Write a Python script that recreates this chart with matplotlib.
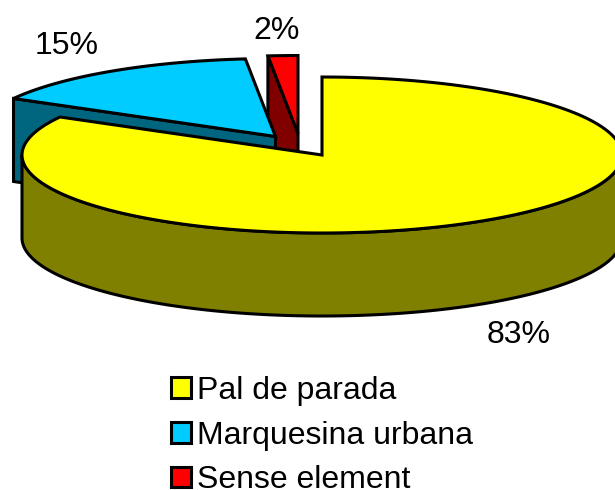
import numpy as np
import matplotlib
matplotlib.use('Agg')
import matplotlib.pyplot as plt
from matplotlib.patches import Polygon, Patch

plt.rcParams['font.family'] = ['Liberation Sans', 'DejaVu Sans']

categories = ['Pal de parada', 'Marquesina urbana', 'Sense element']
values = [83.1, 15.3, 1.6]
pct_labels = ['83%', '15%', '2%']

top_colors = ['#ffff00', '#00ccff', '#ff0000']
side_colors = ['#808000', '#006680', '#800000']

# pie geometry in pixels
W, H = 615, 490
RX, RY = 300, 78
DEPTH = 83
LW = 2.2
centers = [(322, 155), (275.5, 136.5), (298, 133.5)]
label_pos = [(519, 335), (67, 46), (277, 31)]


def arc(cx, cy, a0, a1, n=200):
    # angles in degrees, clockwise from 12 o'clock
    t = np.radians(np.linspace(a0, a1, n))
    return np.column_stack([cx + RX * np.sin(t), cy - RY * np.cos(t)])


def tip(cx, cy, a):
    return arc(cx, cy, a, a, 1)[0]


fig = plt.figure(figsize=(W / 100, H / 100), dpi=100)
ax = fig.add_axes([0, 0, 1, 1])
ax.set_xlim(0, W)
ax.set_ylim(H, 0)
ax.axis('off')

edges = np.cumsum([0] + values) / sum(values) * 360


def add(points, color, z):
    ax.add_patch(Polygon(points, closed=True, facecolor=color, edgecolor='black',
                         linewidth=LW, joinstyle='miter', zorder=z))


# back to front: red, blue, yellow
for i in [2, 1, 0]:
    cx, cy = centers[i]
    a0, a1 = edges[i], edges[i + 1]
    z = 10 - 2 * i
    down = np.array([0, DEPTH])
    if i == 0:
        # curved outer wall of the big slice
        wall = arc(cx, cy, 90, 270)
        add(np.vstack([wall, wall[::-1] + down]), side_colors[i], z)
    else:
        # cut face that looks to the viewer
        p = tip(cx, cy, a0)
        c = np.array([cx, cy])
        add([p, c, c + down, p + down], side_colors[i], z)
    top = np.vstack([[cx, cy], arc(cx, cy, a0, a1)])
    add(top, top_colors[i], z + 1)

for (x, y), s in zip(label_pos, pct_labels):
    ax.text(x, y, s, fontsize=23, ha='center', va='center', color='black', zorder=20)

handles = [Patch(facecolor=c, edgecolor='black', linewidth=LW) for c in top_colors]
ax.legend(handles, categories, loc='upper left', bbox_to_anchor=(164.5 / W, 1 - 369.5 / H),
          frameon=False, fontsize=23, handlelength=0.63, handleheight=0.63,
          handletextpad=0.2, labelspacing=0.46, borderpad=0.2, borderaxespad=0)

fig.savefig('out.png', dpi=100)
